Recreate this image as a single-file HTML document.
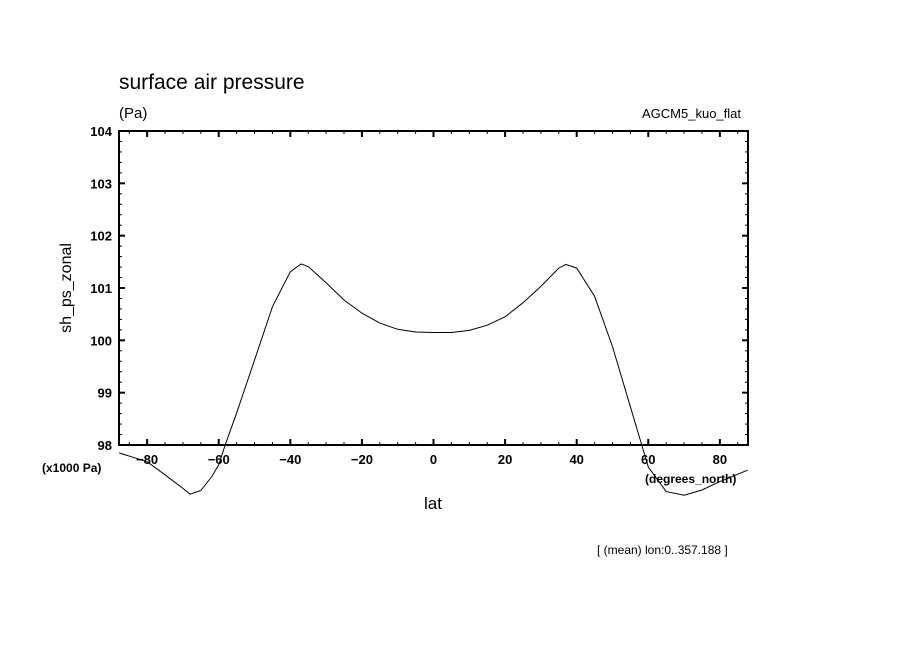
<!DOCTYPE html>
<html><head><meta charset="utf-8"><style>
html,body{margin:0;padding:0;background:#fff;}
svg{display:block;font-family:"Liberation Sans",sans-serif;}
</style></head><body>
<svg id="chart" width="904" height="654" viewBox="0 0 904 654">
<text x="119" y="89" font-size="21">surface air pressure</text>
<text x="119" y="118" font-size="15">(Pa)</text>
<text x="741" y="118" font-size="13" text-anchor="end">AGCM5_kuo_flat</text>
<text transform="translate(71,288) rotate(-90)" font-size="16" text-anchor="middle">sh_ps_zonal</text>
<text x="433" y="509" font-size="17" text-anchor="middle">lat</text>
<text x="42" y="472" font-size="12" font-weight="bold">(x1000 Pa)</text>
<text x="645" y="483" font-size="12" font-weight="bold">(degrees_north)</text>
<text x="597" y="554" font-size="12">[ (mean) lon:0..357.188 ]</text>
<g id="axes"></g>
<path id="line" fill="none" stroke="#000" stroke-width="1"></path>
</svg>
<script>
const lats = [-87.8,-80,-75,-70,-68,-65,-62,-60,-58,-55,-50,-45,-40,-37,-35,-30,-25,-20,-15,-10,-5,0,5,10,15,20,25,30,35,37,40,45,50,55,60,65,70,75,80,87.8];
const values = [97.85,97.68,97.43,97.17,97.06,97.13,97.39,97.62,98.04,98.61,99.62,100.64,101.31,101.46,101.41,101.10,100.77,100.52,100.33,100.21,100.16,100.15,100.15,100.19,100.29,100.45,100.72,101.03,101.38,101.45,101.38,100.84,99.88,98.73,97.58,97.11,97.04,97.14,97.30,97.52];
const xTicks = [-80,-60,-40,-20,0,20,40,60,80];
const yTicks = [98,99,100,101,102,103,104];

const L=119,R=748,T=131,B=445;
const xMin=-87.86,xMax=87.86,yMin=98,yMax=104;
const sx=v=>L+(v-xMin)/(xMax-xMin)*(R-L);
const sy=v=>B-(v-yMin)/(yMax-yMin)*(B-T);
const NS="http://www.w3.org/2000/svg";
const ax=document.getElementById('axes');
function mk(tag,attrs){const e=document.createElementNS(NS,tag);for(const k in attrs)e.setAttribute(k,attrs[k]);ax.appendChild(e);return e;}
const box=mk('rect',{x:L,y:T,width:R-L,height:B-T,fill:'none',stroke:'#000','stroke-width':2});


// x ticks (major every 20, minor every 5)
for(let v=-85;v<=85;v+=5){
  const major=v%20===0;const len=major?6:3;const x=sx(v);
  const t1=mk('line',{x1:x,x2:x,y1:B,y2:B-len,stroke:'#000','stroke-width':major?2:1});
  
  
  const t2=mk('line',{x1:x,x2:x,y1:T,y2:T+len,stroke:'#000','stroke-width':major?2:1});
  
  
}
xTicks.forEach(v=>{
  const t=mk('text',{x:sx(v),y:B+19,'font-size':13,'font-weight':'bold','text-anchor':'middle'});
  t.textContent=(v<0?'\u2212':'')+Math.abs(v);
  
  
});
for(let v=98;v<=104.001;v+=0.2){
  const major=Math.abs(v-Math.round(v))<0.01;const len=major?6:3;const y=sy(v);
  const t1=mk('line',{x1:L,x2:L+len,y1:y,y2:y,stroke:'#000','stroke-width':major?2:1});
  
  
  const t2=mk('line',{x1:R,x2:R-len,y1:y,y2:y,stroke:'#000','stroke-width':major?2:1});
  
  
}
yTicks.forEach(v=>{
  const t=mk('text',{x:L-7,y:sy(v)+5,'font-size':13,'font-weight':'bold','text-anchor':'end'});
  t.textContent=v;
  
  
});
let d='';
lats.forEach((la,i)=>{d+=(i?'L':'M')+sx(la).toFixed(1)+' '+sy(values[i]).toFixed(1);});
document.getElementById('line').setAttribute('d',d);
</script>
</body></html>
